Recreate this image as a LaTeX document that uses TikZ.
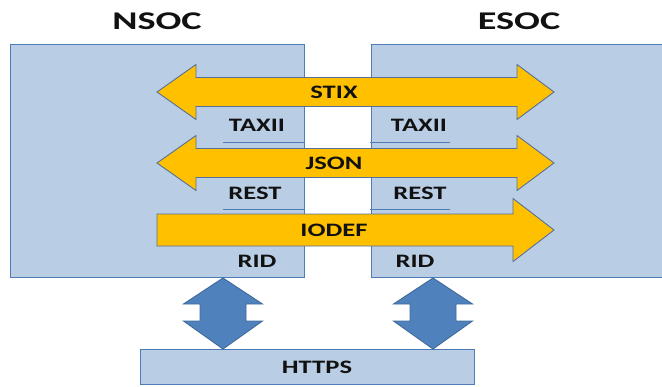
\documentclass[tikz,border=0pt]{standalone}
\usepackage{fontspec}
\setmainfont{Carlito}[FakeStretch=1.4]
\newfontfamily\titlefont{Carlito}[FakeStretch=1.5]
\definecolor{boxfill}{HTML}{B9CDE5}
\definecolor{boxline}{HTML}{4F7CB6}
\definecolor{yfill}{HTML}{FFC000}
\definecolor{yline}{HTML}{56709A}
\definecolor{bfill}{HTML}{4F81BD}
\definecolor{bline}{HTML}{41699A}
\definecolor{ink}{HTML}{111111}
\begin{document}
\begin{tikzpicture}[x=1pt,y=-1pt,
  box/.style={draw=boxline,fill=boxfill,line width=1pt,inner sep=0pt,anchor=north west},
  yarrow/.style={draw=yline,fill=yfill,line width=0.9pt,line join=miter},
  barrow/.style={draw=bline,fill=bfill,line width=0.9pt},
  title/.style={font=\titlefont\fontsize{25.5}{30}\selectfont\bfseries,text=ink,inner sep=0pt},
  lbl/.style={font=\fontsize{19}{23}\selectfont\bfseries,text=ink,inner sep=0pt},
  uline/.style={draw=boxline,line width=0.8pt}]
\clip (0,0) rectangle (662,386);
\useasboundingbox (0,0) rectangle (662,386);
% boxes
\node[box,minimum width=294pt,minimum height=233pt] (nsoc) at (10,44) {};
\node[box,minimum width=310pt,minimum height=233pt] (esoc) at (371,44) {};
\node[box,minimum width=334pt,minimum height=35pt] (https) at (140,349) {};
% titles
\node[title] (nsoct) at (157,21) {NSOC};
\node[title] (esoct) at (519,21) {ESOC};
% STIX double arrow
\draw[yarrow] (157,92) -- (196,64.5) -- (196,77.5) -- (517,77.5) -- (517,64.5) -- (554,92)
  -- (517,119.5) -- (517,106.5) -- (196,106.5) -- (196,119.5) -- cycle;
% JSON double arrow
\draw[yarrow] (157,163) -- (196,135.5) -- (196,148.5) -- (517,148.5) -- (517,135.5) -- (554,163)
  -- (517,190.5) -- (517,177.5) -- (196,177.5) -- (196,190.5) -- cycle;
% IODEF single arrow
\draw[yarrow] (157,214) -- (513,214) -- (513,198.5) -- (554,230) -- (513,261.5) -- (513,246)
  -- (157,246) -- cycle;
\node[lbl] (stix) at (334,92) {STIX};
\node[lbl] (json) at (334,163) {JSON};
\node[lbl] (iodef) at (334,230) {IODEF};
% protocol labels
\node[lbl] (taxiil) at (257,125) {TAXII};
\node[lbl] (taxiir) at (419,125) {TAXII};
\node[lbl] (restl) at (255,193) {REST};
\node[lbl] (restr) at (420,193) {REST};
\node[lbl] (ridl) at (257,261) {RID};
\node[lbl] (ridr) at (415,261) {RID};
% underlines
\draw[uline] (223,142) -- (304,142);
\draw[uline] (370,142) -- (450,142);
\draw[uline] (223,209) -- (304,209);
\draw[uline] (370,209) -- (450,209);
% vertical double arrows
\draw[barrow] (223,278) -- (262.5,304) -- (246,304) -- (246,321) -- (262.5,321) -- (223,349)
  -- (183.5,321) -- (200,321) -- (200,304) -- (183.5,304) -- cycle;
\draw[barrow] (433,278) -- (472.5,304) -- (456,304) -- (456,321) -- (472.5,321) -- (433,349)
  -- (393.5,321) -- (410,321) -- (410,304) -- (393.5,304) -- cycle;
\node[lbl] (httpst) at (317,367) {HTTPS};
\end{tikzpicture}
\end{document}
